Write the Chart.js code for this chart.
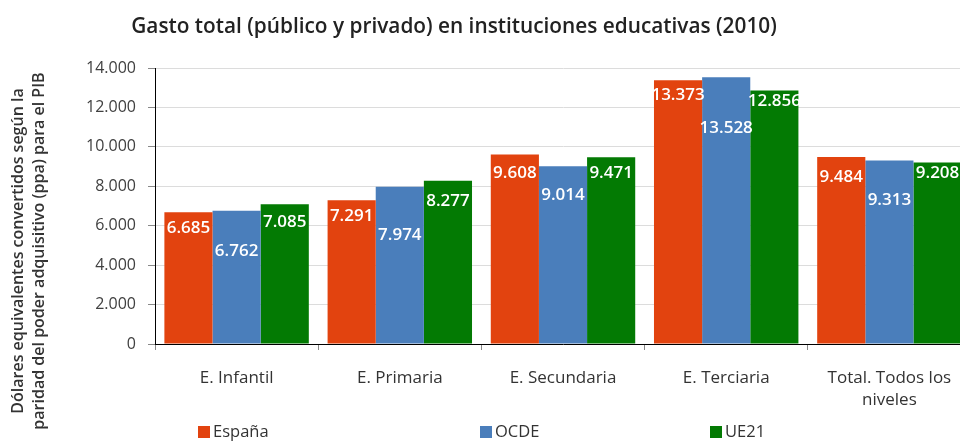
<!DOCTYPE html>
<html>
<head>
<meta charset="utf-8">
<script src="https://cdn.jsdelivr.net/npm/chart.js@4"></script>
<style>
  html, body { margin: 0; padding: 0; background: #fff; overflow: hidden; }
  #wrap { width: 975px; height: 441px; position: relative; }
</style>
</head>
<body>
<div id="wrap"><canvas id="myChart"></canvas></div>
<script>
const categories = ['E. Infantil', 'E. Primaria', 'E. Secundaria', 'E. Terciaria', ['Total. Todos los', 'niveles']];
const espana = [6685, 7291, 9608, 13373, 9484];
const ocde = [6762, 7974, 9014, 13528, 9313];
const ue21 = [7085, 8277, 9471, 12856, 9208];
const seriesNames = ['España', 'OCDE', 'UE21'];
const colors = ['#e2430f', '#4a7ebb', '#037a03'];

const chartTitle = 'Gasto total (público y privado) en instituciones educativas (2010)';
const yTitle = ['Dólares equivalentes convertidos según la', 'paridad del poder adquisitivo (ppa) para el PIB'];

const fmt = v => String(v).replace(/\B(?=(\d{3})+(?!\d))/g, '.');
const font = '"Open Sans", sans-serif';

// how far below the bar top each value label sits (px), per series and category
const labelOffsets = [
  [16, 16, 19, 15, 20],
  [40, 48, 29, 51, 40],
  [18, 20, 16, 11, 11]
];

const extras = {
  id: 'extras',
  afterDatasetsDraw(chart) {
    const ctx = chart.ctx;
    ctx.save();
    ctx.fillStyle = '#fff';
    ctx.font = '600 17px ' + font;
    ctx.textAlign = 'center';
    ctx.textBaseline = 'middle';
    chart.data.datasets.forEach((ds, i) => {
      chart.getDatasetMeta(i).data.forEach((el, j) => {
        ctx.fillText(fmt(ds.data[j]), el.x, el.y + labelOffsets[i][j]);
      });
    });
    ctx.restore();
  },
  afterDraw(chart) {
    const ctx = chart.ctx;
    ctx.save();
    // title
    ctx.fillStyle = '#222';
    ctx.font = '600 20.8px ' + font;
    ctx.textAlign = 'center';
    ctx.textBaseline = 'middle';
    ctx.fillText(chartTitle, 454, 27);
    // y axis title
    ctx.font = '600 16px ' + font;
    ctx.fillStyle = '#333';
    ctx.translate(0, 251);
    ctx.rotate(-Math.PI / 2);
    ctx.fillText(yTitle[0], 0, 18);
    ctx.fillText(yTitle[1], 0, 39);
    ctx.restore();
    // legend
    ctx.save();
    const lx = [198, 480, 710];
    ctx.font = '16.5px ' + font;
    ctx.textBaseline = 'middle';
    ctx.textAlign = 'left';
    chart.data.datasets.forEach((ds, i) => {
      ctx.fillStyle = ds.backgroundColor;
      ctx.fillRect(lx[i], 426, 12, 12);
      ctx.fillStyle = '#333';
      ctx.fillText(ds.label, lx[i] + 15, 432);
    });
    ctx.restore();
  }
};

const ctx = document.getElementById('myChart').getContext('2d');
const chart = new Chart(ctx, {
  type: 'bar',
  data: {
    labels: categories,
    datasets: [
      { label: seriesNames[0], data: espana, backgroundColor: colors[0] },
      { label: seriesNames[1], data: ocde, backgroundColor: colors[1] },
      { label: seriesNames[2], data: ue21, backgroundColor: colors[2] }
    ]
  },
  options: {
    responsive: true,
    maintainAspectRatio: false,
    animation: false,
    layout: { padding: { top: 68, right: 4, left: 0, bottom: 0 } },
    plugins: {
      legend: { display: false },
      title: { display: false },
      tooltip: { enabled: false }
    },
    datasets: { bar: { categoryPercentage: 0.885, barPercentage: 1 } },
    scales: {
      x: {
        grid: { display: true, drawOnChartArea: false, offset: true, tickLength: 6, color: '#888' },
        border: { color: '#000', width: 1 },
        ticks: { color: '#333', font: { family: font, size: 17, lineHeight: 1.25 }, padding: 18, maxRotation: 0 },
        afterFit(scale) { scale.height = 97; }
      },
      y: {
        min: 0,
        max: 14000,
        ticks: { stepSize: 2000, color: '#404040', font: { family: font, size: 16 }, padding: 12, callback: v => fmt(v) },
        grid: { color: '#dcdcdc', tickLength: 7, tickColor: '#888' },
        border: { color: '#000', width: 1 },
        afterFit(scale) { scale.width = 155; }
      }
    }
  },
  plugins: [extras]
});
</script>
</body>
</html>
